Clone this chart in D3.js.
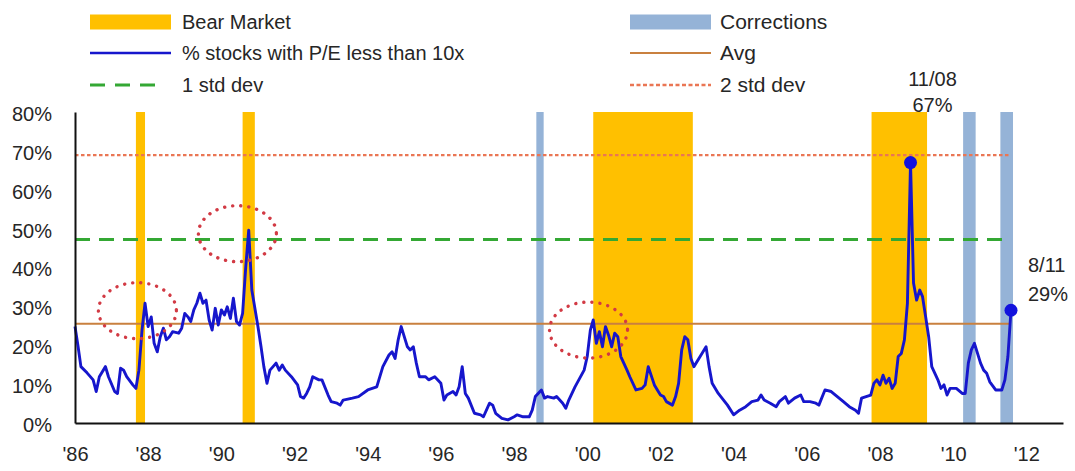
<!DOCTYPE html>
<html>
<head>
<meta charset="utf-8">
<script src="https://cdn.jsdelivr.net/npm/d3@7"></script>
<style>
  body { margin: 0; background: #fff; }
  svg { display: block; font-family: "Liberation Sans", Arial, sans-serif; }
</style>
</head>
<body>
<svg id="chart" width="1075" height="471"></svg>
<script>
// Monthly share of stocks trading at P/E below 10x (%)
const months = [
  "1986-01","1986-02","1986-03","1986-05","1986-07","1986-08","1986-09","1986-10","1986-11","1986-12",
  "1987-02","1987-03","1987-04","1987-05","1987-06","1987-08","1987-09","1987-10","1987-11","1987-12",
  "1988-01","1988-02","1988-03","1988-04","1988-05","1988-06","1988-07","1988-08","1988-09","1988-11","1988-12",
  "1989-01","1989-02","1989-03","1989-04","1989-05","1989-06","1989-07","1989-08","1989-09","1989-10","1989-11","1989-12",
  "1990-01","1990-02","1990-03","1990-04","1990-05","1990-06","1990-07","1990-08","1990-09","1990-10","1990-11",
  "1991-01","1991-02","1991-03","1991-04","1991-05","1991-06","1991-07","1991-08","1991-09","1991-10","1991-12",
  "1992-02","1992-03","1992-04","1992-05","1992-06","1992-07","1992-09","1992-10","1992-12",
  "1993-01","1993-03","1993-04","1993-05","1993-08","1993-10",
  "1994-01","1994-04","1994-06","1994-08","1994-09","1994-10","1994-11","1994-12",
  "1995-02","1995-03","1995-04","1995-05","1995-06","1995-08","1995-09","1995-11",
  "1996-01","1996-02","1996-03","1996-05","1996-06","1996-07","1996-08","1996-09","1996-10","1996-12",
  "1997-02","1997-03","1997-05","1997-06","1997-07","1997-09","1997-11",
  "1998-01","1998-02","1998-04","1998-06","1998-07","1998-08","1998-10","1998-11","1998-12",
  "1999-02","1999-03","1999-05","1999-06","1999-07","1999-09","1999-12",
  "2000-01","2000-02","2000-03","2000-04","2000-05","2000-06","2000-07","2000-08","2000-09","2000-10","2000-11","2000-12",
  "2001-02","2001-03","2001-05","2001-07","2001-08","2001-09","2001-11","2001-12",
  "2002-01","2002-02","2002-03","2002-05","2002-06","2002-07","2002-08","2002-09","2002-10","2002-11","2002-12",
  "2003-02","2003-04","2003-05","2003-06","2003-08","2003-11",
  "2004-01","2004-03","2004-05","2004-07","2004-09","2004-10","2004-11",
  "2005-01","2005-03","2005-04","2005-06","2005-07","2005-09","2005-11","2005-12",
  "2006-02","2006-04","2006-05","2006-07","2006-09","2006-11",
  "2007-01","2007-03","2007-05","2007-06","2007-07","2007-10","2007-11","2007-12",
  "2008-01","2008-02","2008-03","2008-04","2008-05","2008-06","2008-07","2008-08","2008-09","2008-10","2008-11","2008-12",
  "2009-01","2009-02","2009-03","2009-04","2009-05","2009-06","2009-08","2009-09","2009-10","2009-11","2009-12",
  "2010-02","2010-04","2010-05","2010-06","2010-07","2010-08","2010-09","2010-10","2010-11","2010-12",
  "2011-01","2011-03","2011-05","2011-06","2011-07","2011-08"
];
const pctBelow10x = [
  24.8,19.6,14.5,12.9,11.1,8.1,11.9,13.2,14.5,11.9,
  8.1,7.6,14.1,13.6,11.9,9.8,8.9,13.6,23.9,30.8,
  24.8,27.3,20.5,18.3,22.2,24.4,21.4,22.2,23.5,23.1,24.4,
  28.2,27.3,26.1,29.1,30.8,33.4,30.8,31.6,26.5,23.9,29.5,25.2,
  29.1,27.8,29.9,26.9,32.1,26.1,25.2,28.2,40.0,49.6,34.2,
  24.8,19.6,14.5,10.2,13.6,14.5,15.4,13.6,14.9,13.6,11.9,
  9.8,6.8,6.4,7.6,9.3,11.9,11.1,11.1,7.2,
  5.5,5.1,4.6,5.9,6.4,6.8,
  8.5,9.3,14.5,17.5,18.3,16.6,21.4,24.8,
  19.6,18.8,19.6,15.4,11.9,11.9,11.1,11.9,
  10.2,5.9,7.2,8.1,7.2,9.3,14.5,7.6,6.4,2.5,
  2.1,1.6,5.1,4.6,2.5,1.2,0.8,
  1.6,2.1,1.6,1.6,3.3,6.8,8.5,6.4,6.8,
  6.4,6.8,5.1,3.8,5.9,9.3,13.6,
  17.1,23.9,26.5,20.5,23.5,19.6,24.8,22.6,19.6,23.1,22.2,17.1,
  13.6,11.9,8.5,8.9,9.8,14.5,9.8,8.5,
  7.2,6.8,5.5,4.6,6.8,10.2,18.8,22.2,21.4,16.6,14.5,
  17.1,19.6,14.5,10.2,7.6,4.6,
  2.1,3.3,4.2,5.5,5.9,7.2,5.9,
  5.1,4.2,5.5,6.8,5.1,6.4,7.2,5.5,
  5.5,5.1,4.6,8.5,8.1,6.8,
  5.5,4.2,3.3,2.5,6.4,7.2,10.2,11.1,
  9.8,12.3,10.2,11.5,8.9,10.2,17.1,17.9,21.4,30.8,67,36,
  31.6,34.2,32.5,27.3,22.2,14.5,11.1,8.9,9.8,7.2,8.9,
  8.9,7.6,7.6,15.4,18.8,20.5,17.9,15.4,13.6,12.8,
  10.6,8.5,8.5,11.1,17.1,29
];

// Bear markets and corrections (start / end dates)
const bearStarts = ["1987-09-01","1990-08-01","2000-03-01","2007-10-09"];
const bearEnds   = ["1987-12-01","1990-12-01","2002-11-20","2009-04-15"];
const corrStarts = ["1998-08-11","2010-04-10","2011-04-17"];
const corrEnds   = ["1998-10-23","2010-08-13","2011-08-21"];

// Reference levels (%)
const avgLevel = 25.5;
const sd1Level = 47.2;
const sd2Level = 68.9;

// Axis ticks
const yTicks = [0, 10, 20, 30, 40, 50, 60, 70, 80];
const xTickYears = [1986,1988,1990,1992,1994,1996,1998,2000,2002,2004,2006,2008,2010,2012];
const xTickLabels = ["'86","'88","'90","'92","'94","'96","'98","'00","'02","'04","'06","'08","'10","'12"];

// Circled episodes: centre date and level
const circleDates  = ["1987-09-16","1990-06-10","2000-01-14"];
const circleLevels = [28.9, 48.7, 23.9];

// Called-out points
const calloutMonths = ["2008-11","2011-08"];
const calloutTexts  = [["11/08","67%"],["8/11","29%"]];

const COL = {
  bear: "#ffc000", corr: "#95b3d7", line: "#1616cc",
  avg: "#c9803f", sd1: "#34a834", sd2: "#ea7654",
  circle: "#d23a44", text: "#262626", axis: "#111"
};

const parseMonth = d3.timeParse("%Y-%m");
const parseDay = d3.timeParse("%Y-%m-%d");
const series = months.map((m, i) => ({ date: parseMonth(m), value: pctBelow10x[i] }));

const svg = d3.select("#chart");

const x = d3.scaleTime()
  .domain([new Date(1986, 0, 1), new Date(2013, 0, 1)])
  .range([75, 1063]);
const y = d3.scaleLinear().domain([0, 80]).range([423, 112]);

const plot = svg.append("g");

// shaded periods
plot.selectAll("rect.bear")
  .data(bearStarts.map((s, i) => [parseDay(s), parseDay(bearEnds[i])]))
  .join("rect").attr("class", "bear")
  .attr("x", d => x(d[0])).attr("width", d => x(d[1]) - x(d[0]))
  .attr("y", y(80)).attr("height", y(0) - y(80))
  .attr("fill", COL.bear);

plot.selectAll("rect.corr")
  .data(corrStarts.map((s, i) => [parseDay(s), parseDay(corrEnds[i])]))
  .join("rect").attr("class", "corr")
  .attr("x", d => x(d[0])).attr("width", d => x(d[1]) - x(d[0]))
  .attr("y", y(80)).attr("height", y(0) - y(80))
  .attr("fill", COL.corr);

// reference levels across the data range
const first = series[0].date, last = series[series.length - 1].date;
const levels = [
  { v: sd2Level, color: COL.sd2, w: 2.2, dash: "3.5 2.5" },
  { v: sd1Level, color: COL.sd1, w: 3.2, dash: "15 9" },
  { v: avgLevel, color: COL.avg, w: 2, dash: null }
];
plot.selectAll("line.level").data(levels).join("line")
  .attr("class", "level")
  .attr("x1", x(first)).attr("x2", x(last))
  .attr("y1", d => y(d.v)).attr("y2", d => y(d.v))
  .attr("stroke", d => d.color).attr("stroke-width", d => d.w)
  .attr("stroke-dasharray", d => d.dash);

// axes
const yAxis = d3.axisLeft(y).tickValues(yTicks).tickFormat(d => d + "%")
  .tickSize(0).tickSizeOuter(0).tickPadding(23);
const gy = svg.append("g").attr("transform", "translate(75,0)").call(yAxis);
gy.select(".domain").attr("stroke", COL.axis).attr("stroke-width", 2);
gy.selectAll("text").attr("font-size", 20).attr("fill", COL.text)
  .attr("font-family", "Liberation Sans, Arial, sans-serif").attr("dy", "0.42em");

const xAxis = d3.axisBottom(x)
  .tickValues(xTickYears.map(yr => new Date(yr, 0, 1)))
  .tickFormat((d, i) => xTickLabels[i])
  .tickSize(0).tickSizeOuter(0).tickPadding(24);
const gx = svg.append("g").attr("transform", "translate(0,423)").call(xAxis);
gx.select(".domain").attr("stroke", COL.axis).attr("stroke-width", 2);
gx.selectAll("text").attr("font-size", 20).attr("fill", COL.text)
  .attr("font-family", "Liberation Sans, Arial, sans-serif");

// main series
const line = d3.line().x(d => x(d.date)).y(d => y(d.value));
plot.append("path").datum(series)
  .attr("d", line).attr("fill", "none")
  .attr("stroke", COL.line).attr("stroke-width", 2.9)
  .attr("stroke-linejoin", "round");

// called-out points
const callouts = calloutMonths.map((m, i) => {
  const pt = series.find(s => +s.date === +parseMonth(m));
  return { date: pt.date, value: pt.value, lines: calloutTexts[i] };
});
svg.selectAll("circle.callout").data(callouts).join("circle")
  .attr("class", "callout")
  .attr("cx", d => x(d.date)).attr("cy", d => y(d.value)).attr("r", 6.5)
  .attr("fill", "#1212dd");

// peak label above the point, latest label to its right
const cPeak = callouts[0], cLast = callouts[1];
const peakLbl = svg.append("text").attr("text-anchor", "middle")
  .attr("font-size", 20).attr("fill", COL.text);
peakLbl.append("tspan").attr("x", x(cPeak.date) + 22).attr("y", y(cPeak.value) - 77).text(cPeak.lines[0]);
peakLbl.append("tspan").attr("x", x(cPeak.date) + 22).attr("y", y(cPeak.value) - 51).text(cPeak.lines[1]);

const lastLbl = svg.append("text").attr("text-anchor", "start")
  .attr("font-size", 20).attr("fill", COL.text);
lastLbl.append("tspan").attr("x", x(cLast.date) + 17).attr("y", y(cLast.value) - 38).text(cLast.lines[0]);
lastLbl.append("tspan").attr("x", x(cLast.date) + 17).attr("y", y(cLast.value) - 9).text(cLast.lines[1]);

// dotted rings around notable spikes
svg.selectAll("ellipse.ring")
  .data(circleDates.map((d, i) => ({ date: parseDay(d), v: circleLevels[i] })))
  .join("ellipse").attr("class", "ring")
  .attr("cx", d => x(d.date)).attr("cy", d => y(d.v))
  .attr("rx", 39).attr("ry", 28)
  .attr("fill", "none").attr("stroke", COL.circle)
  .attr("stroke-width", 3.4).attr("stroke-linecap", "round")
  .attr("stroke-dasharray", "0.1 8");

// legend
const legendItems = [
  { col: 0, row: 0, kind: "rect", color: COL.bear, label: "Bear Market" },
  { col: 0, row: 1, kind: "line", color: COL.line, w: 2.6, dash: null, label: "% stocks with P/E less than 10x" },
  { col: 0, row: 2, kind: "line", color: COL.sd1, w: 3.2, dash: "15 10", label: "1 std dev" },
  { col: 1, row: 0, kind: "rect", color: COL.corr, label: "Corrections" },
  { col: 1, row: 1, kind: "line", color: COL.avg, w: 2.2, dash: null, label: "Avg" },
  { col: 1, row: 2, kind: "line", color: COL.sd2, w: 2.6, dash: "4 2.5", label: "2 std dev" }
];
const colX = [90, 630], rowY = [22, 53, 85];
const lg = svg.append("g");
legendItems.forEach(it => {
  const x0 = colX[it.col], yc = rowY[it.row];
  if (it.kind === "rect") {
    lg.append("rect").attr("x", x0).attr("y", yc - 7.5).attr("width", 81).attr("height", 15)
      .attr("fill", it.color);
  } else {
    lg.append("line").attr("x1", x0).attr("x2", x0 + (it.dash && it.col === 0 ? 70 : 81))
      .attr("y1", yc).attr("y2", yc)
      .attr("stroke", it.color).attr("stroke-width", it.w).attr("stroke-dasharray", it.dash);
  }
  lg.append("text").attr("x", x0 + (it.col === 0 ? 92 : 90)).attr("y", yc + 7)
    .attr("font-size", it.col === 0 ? 20 : 21).attr("fill", COL.text).text(it.label);
});
</script>
</body>
</html>
